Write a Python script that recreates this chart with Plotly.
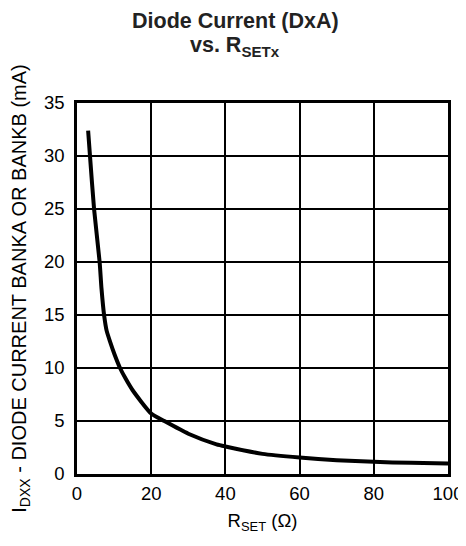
import plotly.graph_objects as go

r_set = [3, 3.5, 4.6, 6.1, 6.6, 7.3, 8.0, 9.0, 10.1, 11.6, 13.1, 15.0, 20, 23.5, 30, 37.6, 40, 50, 60, 70, 80, 90, 100]
i_dxx = [32.4, 30, 25, 20, 17.5, 15, 13.5, 12.4, 11.3, 10, 9.0, 7.9, 5.7, 5.0, 3.8, 2.8, 2.6, 1.9, 1.55, 1.3, 1.15, 1.05, 1.0]

x_ticks = [0, 20, 40, 60, 80, 100]
y_ticks = [0, 5, 10, 15, 20, 25, 30, 35]

font_family = "Liberation Sans, Arial, Helvetica, sans-serif"

fig = go.Figure()
fig.add_trace(go.Scatter(
    x=r_set, y=i_dxx, mode="lines",
    line=dict(color="black", width=4, shape="spline", smoothing=0.6),
    showlegend=False, hoverinfo="skip",
))

fig.update_layout(
    width=458, height=526,
    margin=dict(l=69, r=18, t=95, b=60),
    paper_bgcolor="white", plot_bgcolor="white",
    font=dict(family=font_family, color="black", size=18),
    annotations=[
        dict(text="<b>Diode Current (DxA)</b>", xref="paper", yref="paper",
             x=0.426, y=1.0, yshift=82, xanchor="center", yanchor="middle",
             showarrow=False, font=dict(size=21.5, color="#222")),
        dict(text="<b>vs. R<sub>SETx</sub></b>", xref="paper", yref="paper",
             x=0.426, y=1.0, yshift=57, xanchor="center", yanchor="middle",
             showarrow=False, font=dict(size=21.5, color="#222")),
    ],
)

fig.update_xaxes(
    range=[0, 100], tickvals=x_ticks, ticks="", automargin=False,
    showgrid=True, gridcolor="black", gridwidth=1.5,
    showline=True, linecolor="black", linewidth=2.5, mirror=True,
    zeroline=False,
    tickfont=dict(size=18.5), ticklabelstandoff=1,
    title=dict(text="R<sub>SET</sub> (Ω)", font=dict(size=18.5), standoff=12),
)
fig.update_yaxes(
    range=[0, 35], tickvals=y_ticks, ticks="", automargin=False,
    showgrid=True, gridcolor="black", gridwidth=1.5,
    showline=True, linecolor="black", linewidth=2.5, mirror=True,
    zeroline=False,
    tickfont=dict(size=18.5), ticklabelstandoff=6,
    title=dict(text="I<sub>DXX</sub> - DIODE CURRENT BANKA OR BANKB (mA)", font=dict(size=20), standoff=14),
)

fig.write_html("out.html")
